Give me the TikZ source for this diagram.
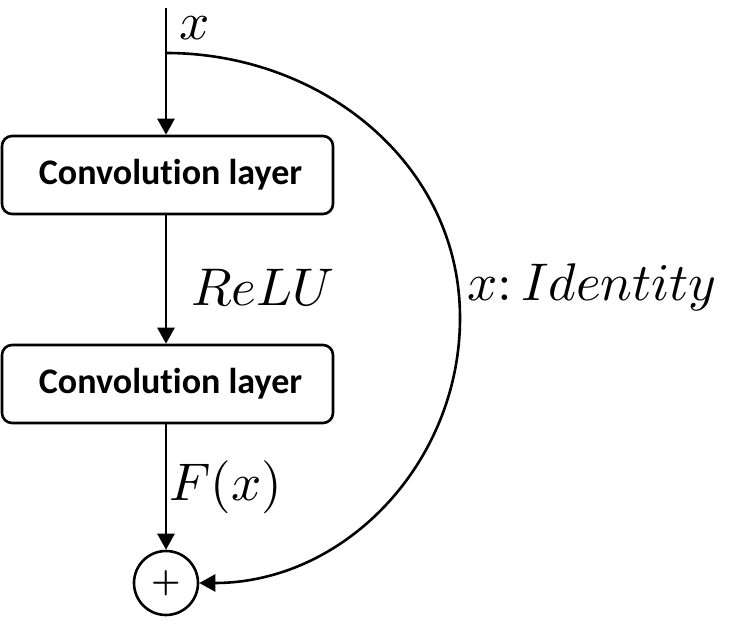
\documentclass[tikz,border=0pt]{standalone}
\usepackage{graphicx}
\usepackage{fontspec}
\newfontfamily\boxfont[Ligatures=NoCommon]{Carlito}
\usetikzlibrary{arrows.meta,positioning}
\newcommand{\bigmath}[1]{\scalebox{5.3}{$#1$}}
\tikzset{
  layer/.style={draw, rounded corners=10pt, line width=2.6pt, minimum width=331pt, minimum height=78pt, inner sep=0pt, font=\boxfont\bfseries\fontsize{36}{40}\selectfont},
  sumnode/.style={draw, circle, line width=2.6pt, minimum size=64pt, inner sep=0pt},
  flow/.style={-{Triangle[length=16pt,width=17pt]}, line width=2.6pt},
  lbl/.style={inner sep=0pt, anchor=west},
}
\begin{document}
\begin{tikzpicture}[x=1pt,y=1pt]
\useasboundingbox (0,0) rectangle (745,624);
\coordinate (in) at (166,616);
\coordinate (fork) at (166,571);
\coordinate (skip) at (460,306);
\node[layer] (conv1) at (167.5,449) {\hspace*{6pt}Convolution layer};
\node[layer] (conv2) at (167.5,240) {\hspace*{6pt}Convolution layer};
\node[sumnode] (sum) at (166,41) {\scalebox{3.3}{\boldmath$+$}};
% main path
\draw[flow] (in) -- (in |- conv1.north);
\draw[flow] (in |- conv1.south) -- (in |- conv2.north);
\draw[flow] (in |- conv2.south) -- (sum);
% shortcut
\draw[flow] (fork) to[out=0,in=90] (skip) to[out=-90,in=0] (sum);
\node[lbl] (xin) at (179,596) {\bigmath{x}};
\node[lbl] (relu) at (191,337) {\bigmath{ReLU}};
\node[lbl] (ident) at (467,337) {\bigmath{x{:}\,Identity}};
\node[lbl] (fx) at (169,137) {\bigmath{F(x)}};
\end{tikzpicture}
\end{document}
